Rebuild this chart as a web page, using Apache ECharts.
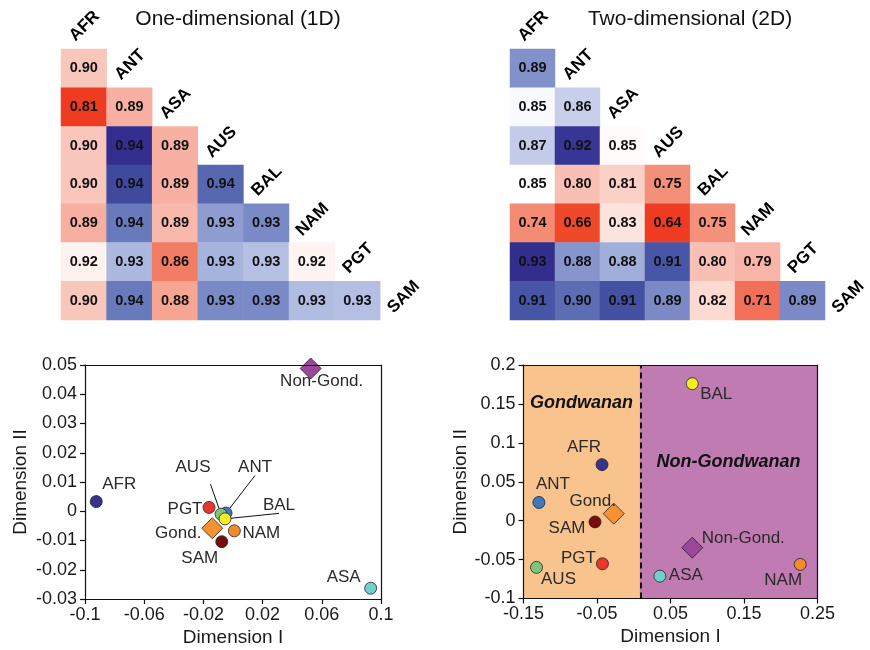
<!DOCTYPE html>
<html><head><meta charset="utf-8">
<script src="https://cdn.jsdelivr.net/npm/echarts@6/dist/echarts.min.js"></script>
<style>html,body{margin:0;padding:0;background:#fff}#c{width:870px;height:650px}</style>
</head><body><div id="c"></div>
<script>
// ---------------- DATA ----------------
const regions = ['AFR','ANT','ASA','AUS','BAL','NAM','PGT','SAM'];
// lower triangle: row k is regions[k+1] vs regions[0..k]
const values1D = [
  [0.9000],
  [0.8100, 0.8900],
  [0.9000, 0.9425, 0.8900],
  [0.9000, 0.9403, 0.8900, 0.9367],
  [0.8893, 0.9351, 0.8940, 0.9322, 0.9338],
  [0.9195, 0.9302, 0.8560, 0.9306, 0.9297, 0.9210],
  [0.9000, 0.9351, 0.8825, 0.9338, 0.9338, 0.9299, 0.9297]
];
const values2D = [
  [0.886],
  [0.8515, 0.864],
  [0.866, 0.923, 0.847],
  [0.850, 0.800, 0.812, 0.747],
  [0.743, 0.660, 0.830, 0.640, 0.748],
  [0.930, 0.884, 0.8765, 0.911, 0.800, 0.790],
  [0.912, 0.899, 0.914, 0.889, 0.820, 0.710, 0.889]
];
const colourDomain1D = [0.81, 0.925, 0.943];   // [red end, white, blue end]
const colourDomain2D = [0.64, 0.85, 0.93];

const pointNames = ['AFR','ANT','ASA','AUS','BAL','NAM','PGT','SAM'];
const dimI_1D  = [-0.0924, -0.0047, 0.0930, -0.0081, -0.0054, 0.0009, -0.0162, -0.0076];
const dimII_1D = [ 0.0033, -0.0006, -0.0263, -0.0010, -0.0026, -0.0067, 0.0013, -0.0104];
const dimI_2D  = [-0.0432, -0.1290, 0.0355, -0.1323, 0.0796, 0.2265, -0.0426, -0.0527];
const dimII_2D = [ 0.0720, 0.0234, -0.0713, -0.0600, 0.1760, -0.0562, -0.0554, -0.0016];
const groupNames = ['Gond.', 'Non-Gond.'];
const groupDimI_1D  = [-0.0140, 0.0525];
const groupDimII_1D = [-0.0058, 0.0488];
const groupDimI_2D  = [-0.0272, 0.0796];
const groupDimII_2D = [ 0.0090, -0.0347];
const boundary2D = 0.008;   // Gondwanan / Non-Gondwanan split on Dimension I

const xRange1D = [-0.1, 0.1], yRange1D = [-0.03, 0.05];
const xRange2D = [-0.15, 0.25], yRange2D = [-0.1, 0.2];
const xTicks1D = [-0.1, -0.06, -0.02, 0.02, 0.06, 0.1];
const xTicks2D = [-0.15, -0.05, 0.05, 0.15, 0.25];

// ---------------- STYLE ----------------
const FONT = 'Liberation Sans, Arial, Helvetica, sans-serif';
const pointColors = {AFR:'#37338F', ANT:'#3F77C0', ASA:'#72CFD0', AUS:'#7CC67B', BAL:'#F5EC22',
  NAM:'#F28B2A', PGT:'#E8372B', SAM:'#7A0B0B', 'Gond.':'#F5912F', 'Non-Gond.':'#9B479A'};
const labelOffsets1D = {AFR:[23,-17], ANT:[29,-46], ASA:[-27,-11], AUS:[-28,-47], BAL:[54,-14],
  NAM:[27,2], PGT:[-24,2], SAM:[-22,17], 'Gond.':[-34,5], 'Non-Gond.':[11,13]};
const leaders1D = ['ANT','AUS','BAL'];
const labelOffsets2D = {AFR:[-18,-17], ANT:[14,-18], ASA:[26,-1], AUS:[22,12], BAL:[24,11],
  NAM:[-17,16], PGT:[-24,-5], SAM:[-28,6], 'Gond.':[-21,-12], 'Non-Gond.':[51,-9]};

const redStops = [[0,'#FFFFFF'],[0.05,'#FEF1EE'],[0.1,'#FDE2DC'],[0.15,'#FCD7CF'],[0.2,'#FACBC1'],
  [0.25,'#F8BDB0'],[0.3,'#F7B1A3'],[0.4,'#F5A08C'],[0.5,'#F48E77'],[0.6,'#F37D64'],[0.7,'#F26A52'],
  [0.8,'#F05A3D'],[0.9,'#EF4A2A'],[1,'#EE3B22']];
const blueStops = [[0,'#FFFFFF'],[0.1,'#DDE2F2'],[0.175,'#C8CFEA'],[0.25,'#B8C2E4'],[0.33,'#A0AEDA'],
  [0.43,'#8694CC'],[0.5,'#7888C6'],[0.6,'#5E6FB5'],[0.75,'#4858A7'],[0.85,'#3F4A9E'],[0.92,'#363493'],[1,'#332D8D']];

function hex2rgb(h){return [parseInt(h.slice(1,3),16),parseInt(h.slice(3,5),16),parseInt(h.slice(5,7),16)];}
function interp(stops,t){
  t=Math.max(0,Math.min(1,t));
  for(let i=1;i<stops.length;i++){
    if(t<=stops[i][0]){
      const a=stops[i-1],b=stops[i],f=(t-a[0])/(b[0]-a[0]);
      const ca=hex2rgb(a[1]),cb=hex2rgb(b[1]);
      return 'rgb('+ca.map((v,k)=>Math.round(v+(cb[k]-v)*f)).join(',')+')';
    }
  }
  return stops[stops.length-1][1];
}
function cellColor(v,dom){
  if(v<dom[1]) return interp(redStops,(dom[1]-v)/(dom[1]-dom[0]));
  return interp(blueStops,(v-dom[1])/(dom[2]-dom[1]));
}
function heatData(vals,dom){
  const out=[];
  vals.forEach((row,k)=>row.forEach((v,c)=>{
    out.push({value:[c,k+1,v],itemStyle:{color:cellColor(v,dom),opacity:1}});
  }));
  return out;
}
function pointData(xs,ys,gx,gy,offsets,leaders){
  const out=[];
  pointNames.forEach((n,i)=>{
    const d={name:n,value:[xs[i],ys[i]],symbol:'circle',symbolSize:12,
      itemStyle:{color:pointColors[n],opacity:1},label:{offset:offsets[n]}};
    if(leaders && leaders.indexOf(n)>=0) d.labelLine={show:true,lineStyle:{color:'#111',width:1,opacity:1}};
    out.push(d);
  });
  groupNames.forEach((n,i)=>{
    out.push({name:n,value:[gx[i],gy[i]],symbol:'diamond',symbolSize:21,
      itemStyle:{color:pointColors[n],opacity:1},label:{offset:offsets[n]}});
  });
  return out;
}

const hiddenCat=(gi,data,inv)=>({type:'category',gridIndex:gi,data:data,show:false,inverse:!!inv});
const axisLineStyle={show:true,onZero:false,lineStyle:{color:'#111',width:1.2}};
const axisTickStyle={show:true,inside:false,length:5,lineStyle:{color:'#111',width:1.2}};
const nameStyle={fontSize:19,color:'#1a1a1a',fontFamily:FONT};
const labelFont={fontSize:18,color:'#1a1a1a',fontFamily:FONT};
function frameAxis(gi,pos){
  return {type:'value',gridIndex:gi,position:pos,min:0,max:1,
    axisLine:axisLineStyle,axisTick:{show:false},axisLabel:{show:false},splitLine:{show:false},z:5};
}
function valueX(gi,range,ticks){
  return {type:'value',gridIndex:gi,min:range[0],max:range[1],name:'Dimension I',nameLocation:'middle',nameGap:29,
    nameTextStyle:nameStyle,axisLine:axisLineStyle,splitLine:{show:false},z:5,
    axisTick:Object.assign({},axisTickStyle,{customValues:ticks}),
    axisLabel:Object.assign({margin:7,customValues:ticks},labelFont)};
}
function valueY(gi,range,step,gap){
  return {type:'value',gridIndex:gi,min:range[0],max:range[1],interval:step,name:'Dimension II',nameLocation:'middle',
    nameGap:gap,nameTextStyle:nameStyle,axisLine:axisLineStyle,axisTick:axisTickStyle,splitLine:{show:false},z:5,
    axisLabel:Object.assign({margin:8},labelFont)};
}

const heatLabel={show:true,fontSize:14.5,fontWeight:'bold',color:'#111',fontFamily:FONT,
  formatter:p=>p.value[2].toFixed(2)};
const diagLabel={show:true,position:'inside',formatter:'{b}',rotate:45,offset:[3,-2],
  fontSize:17,fontWeight:'bold',color:'#000',opacity:1,fontFamily:FONT};
const ptLabel={show:true,position:'inside',formatter:'{b}',fontSize:17,color:'#2a2a2a',opacity:1,fontFamily:FONT};

const rowCats=['hdr'].concat(regions.slice(1));
const titleStyle=t=>({text:t,fontSize:21,fontFamily:FONT,fill:'#111',
  textAlign:'center',textVerticalAlign:'middle',align:'center',verticalAlign:'middle'});

const option={
  animation:false,
  textStyle:{fontFamily:FONT},
  graphic:[
    {type:'text',x:238,y:19,style:titleStyle('One-dimensional (1D)')},
    {type:'text',x:690,y:19,style:titleStyle('Two-dimensional (2D)')}
  ],
  grid:[
    {left:61,top:10.3,width:364.8,height:309.6},
    {left:510,top:10.3,width:364.8,height:309.6},
    {left:85,top:365,width:296,height:234},
    {left:523.5,top:365,width:294,height:233.5}
  ],
  xAxis:[
    hiddenCat(0,regions),
    hiddenCat(1,regions),
    valueX(2,xRange1D,xTicks1D),
    valueX(3,xRange2D,xTicks2D),
    frameAxis(2,'top'),
    frameAxis(3,'top')
  ],
  yAxis:[
    hiddenCat(0,rowCats,true),
    hiddenCat(1,rowCats,true),
    valueY(2,yRange1D,0.01,55),
    valueY(3,yRange2D,0.05,49),
    frameAxis(2,'right'),
    frameAxis(3,'right')
  ],
  series:[
    {type:'heatmap',xAxisIndex:0,yAxisIndex:0,data:heatData(values1D,colourDomain1D),label:heatLabel,
      emphasis:{disabled:true},silent:true},
    {type:'heatmap',xAxisIndex:1,yAxisIndex:1,data:heatData(values2D,colourDomain2D),label:heatLabel,
      emphasis:{disabled:true},silent:true},
    {type:'scatter',xAxisIndex:0,yAxisIndex:0,symbolSize:1,itemStyle:{color:'rgba(0,0,0,0)',opacity:1},
      data:regions.map((n,i)=>({name:n,value:[i,i]})),label:diagLabel,silent:true,z:4},
    {type:'scatter',xAxisIndex:1,yAxisIndex:1,symbolSize:1,itemStyle:{color:'rgba(0,0,0,0)',opacity:1},
      data:regions.map((n,i)=>({name:n,value:[i,i]})),label:diagLabel,silent:true,z:4},
    {type:'scatter',xAxisIndex:2,yAxisIndex:2,silent:true,
      data:pointData(dimI_1D,dimII_1D,groupDimI_1D,groupDimII_1D,labelOffsets1D,leaders1D),
      itemStyle:{borderColor:'#222',borderWidth:0.8,opacity:1},label:ptLabel,labelLine:{show:false}},
    {type:'scatter',xAxisIndex:3,yAxisIndex:3,silent:true,
      data:pointData(dimI_2D,dimII_2D,groupDimI_2D,groupDimII_2D,labelOffsets2D,null),
      itemStyle:{borderColor:'#222',borderWidth:0.8,opacity:1},label:ptLabel,
      markArea:{silent:true,
        label:{show:true,position:'insideTop',fontSize:18,fontWeight:'bold',fontStyle:'italic',color:'#111',fontFamily:FONT},
        data:[
          [{name:'Gondwanan',xAxis:xRange2D[0],itemStyle:{color:'#F9C38E',opacity:1},label:{distance:29}},{xAxis:boundary2D}],
          [{name:'Non-Gondwanan',xAxis:boundary2D,itemStyle:{color:'#C07BB3',opacity:1},label:{distance:88}},{xAxis:xRange2D[1]}]
        ]},
      markLine:{silent:true,symbol:'none',label:{show:false},
        lineStyle:{type:[6,4],color:'#111',width:2},
        data:[{xAxis:boundary2D}]}
    }
  ]
};
const chart=echarts.init(document.getElementById('c'),null,{renderer:'canvas'});
chart.setOption(option);
</script></body></html>
